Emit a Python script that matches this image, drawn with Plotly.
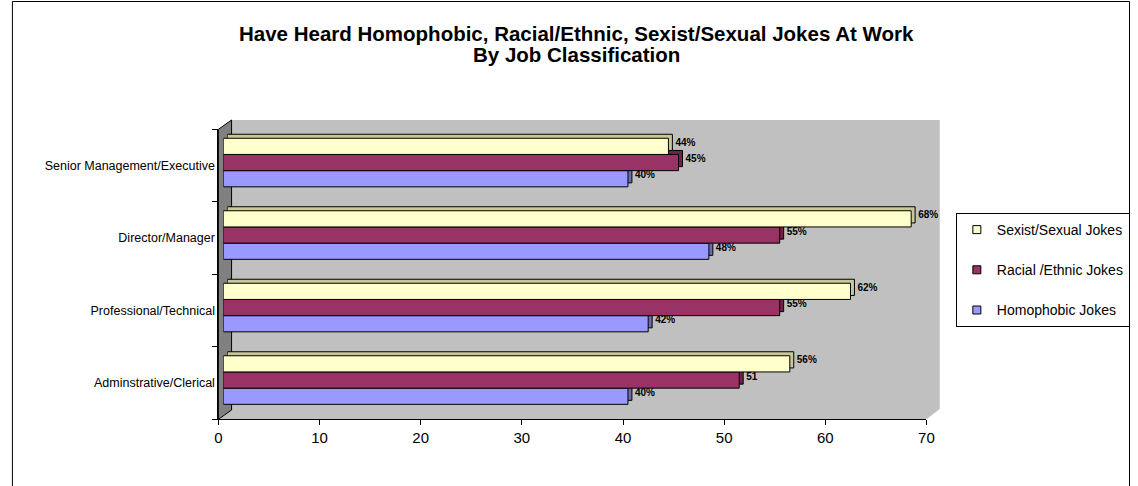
import plotly.graph_objects as go

# ---------------- data ----------------
categories = ["Senior Management/Executive", "Director/Manager",
              "Professional/Technical", "Adminstrative/Clerical"]
series_names = ["Sexist/Sexual Jokes", "Racial /Ethnic Jokes", "Homophobic Jokes"]
sexist = [44, 68, 62, 56]
racial = [45, 55, 55, 51]
homophobic = [40, 48, 42, 40]
sexist_labels = ["44%", "68%", "62%", "56%"]
racial_labels = ["45%", "55%", "55%", "51"]
homophobic_labels = ["40%", "48%", "42%", "40%"]
x_ticks = [0, 10, 20, 30, 40, 50, 60, 70]
title_lines = ["Have Heard Homophobic, Racial/Ethnic, Sexist/Sexual Jokes At Work",
               "By Job Classification"]

# ---------------- styling ----------------
W, H = 1138, 486
FONT = "Arial, Liberation Sans, sans-serif"
front_colors = {"Sexist/Sexual Jokes": "#FFFFCC",
                "Racial /Ethnic Jokes": "#993366",
                "Homophobic Jokes": "#9999FF"}
depth_colors = {"Sexist/Sexual Jokes": "#C8C896",
                "Racial /Ethnic Jokes": "#6B2447",
                "Homophobic Jokes": "#6B6BB2"}


def px(x):
    return x / W


def py(y):
    return 1 - y / H


cat_order = list(reversed(categories))  # bottom to top
series = {"Sexist/Sexual Jokes": (sexist, sexist_labels),
          "Racial /Ethnic Jokes": (racial, racial_labels),
          "Homophobic Jokes": (homophobic, homophobic_labels)}
draw_order = ["Homophobic Jokes", "Racial /Ethnic Jokes", "Sexist/Sexual Jokes"]

fig = go.Figure()

# invisible trace to make the visible axes render
fig.add_trace(go.Scatter(x=[0] * len(categories), y=categories, mode="markers",
                         marker=dict(opacity=0), hoverinfo="skip",
                         showlegend=False, xaxis="x", yaxis="y"))

# depth (3D side/top) bars - drawn first (subplot x2/y2)
for name in draw_order:
    vals, labels = series[name]
    fig.add_trace(go.Bar(
        y=categories, x=vals, orientation="h", name=name,
        marker=dict(color=depth_colors[name], line=dict(color="black", width=1)),
        text=labels, textposition="outside", constraintext="none",
        textfont=dict(family=FONT, size=10, color="black", weight="bold"),
        cliponaxis=False, showlegend=False, hoverinfo="skip",
        xaxis="x2", yaxis="y2"))

# front faces - drawn on top (subplot x3/y3)
for name in draw_order:
    vals, labels = series[name]
    fig.add_trace(go.Bar(
        y=categories, x=vals, orientation="h", name=name,
        marker=dict(color=front_colors[name], line=dict(color="black", width=1)),
        showlegend=False, xaxis="x3", yaxis="y3"))

# legend proxies
for i, name in enumerate(series_names):
    fig.add_trace(go.Scatter(
        x=[None], y=[None], mode="markers", name=name,
        marker=dict(symbol="square", size=8, color=front_colors[name],
                    line=dict(color="black", width=1)),
        legendgroup="g%d" % i, showlegend=True, xaxis="x", yaxis="y"))

ax_common = dict(range=[0, 70], showgrid=False, zeroline=False, fixedrange=True)
cat_common = dict(type="category", categoryorder="array", categoryarray=cat_order,
                  range=[-0.5, len(categories) - 0.5], showgrid=False,
                  fixedrange=True)

fig.update_layout(
    width=W, height=H,
    margin=dict(l=0, r=0, t=0, b=0),
    paper_bgcolor="white", plot_bgcolor="rgba(0,0,0,0)",
    barmode="group", bargap=0.33, bargroupgap=0,
    font=dict(family=FONT, color="black"),
    xaxis=dict(domain=[px(216.7), px(932.3)], anchor="y", tickvals=x_ticks,
               ticks="outside", ticklen=5, tickcolor="black",
               showline=True, linecolor="black", linewidth=1,
               tickfont=dict(size=15, family=FONT, color="black"), **ax_common),
    yaxis=dict(domain=[py(419.3), py(129.3)], anchor="x", tickson="boundaries",
               ticks="outside", ticklen=5, tickcolor="black",
               showline=True, linecolor="black", linewidth=1,
               tickfont=dict(size=12.5, family=FONT, color="black"), **cat_common),
    xaxis2=dict(domain=[px(225.7), px(941.3)], anchor="y2", visible=False, **ax_common),
    yaxis2=dict(domain=[py(412.3), py(122.3)], anchor="x2", visible=False, **cat_common),
    xaxis3=dict(domain=[px(221.7), px(937.3)], anchor="y3", visible=False, **ax_common),
    yaxis3=dict(domain=[py(416.3), py(126.3)], anchor="x3", visible=False, **cat_common),
    legend=dict(x=px(962), y=py(213), xanchor="left", yanchor="top",
                bordercolor="black", borderwidth=1, bgcolor="white",
                font=dict(size=14, family=FONT, color="black"),
                traceorder="grouped", tracegroupgap=19),
    showlegend=True,
)


def path(points):
    s = "M %f %f" % (px(points[0][0]), py(points[0][1]))
    for x, y in points[1:]:
        s += " L %f %f" % (px(x), py(y))
    return s + " Z"


shapes = [
    # back wall + floor
    dict(type="path", xref="paper", yref="paper", layer="below",
         path=path([(230, 120), (945.7, 120), (945.7, 409), (932.3, 419.3),
                    (216.7, 419.3), (230, 410)]),
         fillcolor="#C0C0C0", line=dict(width=0)),
    # left side wall
    dict(type="path", xref="paper", yref="paper", layer="below",
         path=path([(216.7, 419.3), (216.7, 129.3), (230, 120), (230, 410)]),
         fillcolor="#808080", line=dict(color="black", width=1)),
    # outer chart frame
    dict(type="rect", xref="paper", yref="paper", layer="below",
         x0=px(8.5), x1=px(1137.5), y0=py(500), y1=py(1.5),
         fillcolor="rgba(0,0,0,0)", line=dict(color="black", width=1)),
]
fig.update_layout(shapes=shapes)

annotations = []
for line, ymid in zip(title_lines, [33.5, 55.0]):
    annotations.append(dict(text="<b>%s</b>" % line, xref="paper", yref="paper",
                            x=px(579), y=py(ymid), xanchor="center", yanchor="middle",
                            showarrow=False,
                            font=dict(family=FONT, size=20.5, color="black")))
fig.update_layout(annotations=annotations)

fig.write_html("out.html")
